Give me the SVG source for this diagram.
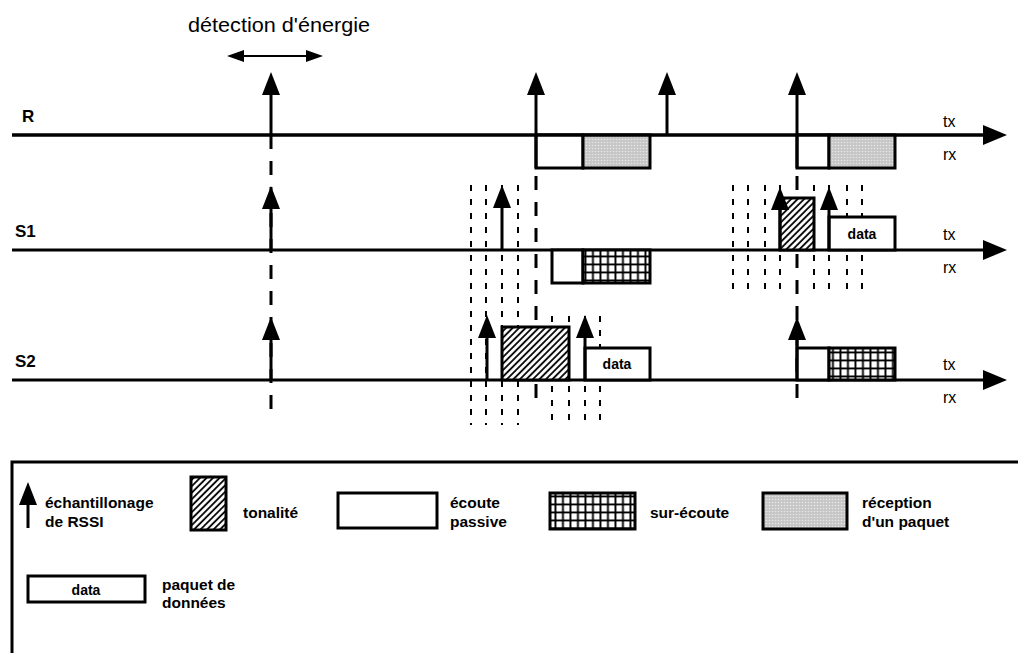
<svg xmlns="http://www.w3.org/2000/svg" width="1018" height="653" viewBox="0 0 1018 653">
<defs>
<style>
.ln{stroke:#000;stroke-width:3;fill:none}
.sh{stroke:#000;stroke-width:3;fill:none;marker-end:url(#arr)}
.dash{stroke:#000;stroke-width:3;fill:none;stroke-dasharray:14 12}
.dot{stroke:#000;stroke-width:2;fill:none;stroke-dasharray:6 8}
.box{stroke:#000;stroke-width:3;fill:#fff}
.hat{stroke:#000;stroke-width:3;fill:url(#hatch)}
.grd{stroke:#000;stroke-width:3;fill:url(#grid)}
.gry{stroke:#000;stroke-width:3;fill:url(#gray)}
.lbl{font-family:"Liberation Sans",Arial,sans-serif;font-weight:bold;font-size:17px;fill:#000}
.txrx{font-family:"Liberation Sans",Arial,sans-serif;font-size:16px;fill:#000}
.dt{font-family:"Liberation Sans",Arial,sans-serif;font-weight:bold;font-size:14px;fill:#000;text-anchor:middle}
.lg{font-family:"Liberation Sans",Arial,sans-serif;font-weight:bold;font-size:15.5px;fill:#000}
</style>
<marker id="arr" markerUnits="userSpaceOnUse" markerWidth="23" markerHeight="18" refX="11" refY="9" orient="auto" viewBox="0 0 23 18">
<path d="M0,0 L23,9 L0,18 z" fill="#000"/>
</marker>
<marker id="big" markerUnits="userSpaceOnUse" markerWidth="24" markerHeight="20" refX="12" refY="10" orient="auto" viewBox="0 0 24 20">
<path d="M0,0 L24,10 L0,20 z" fill="#000"/>
</marker>
<marker id="sm" markerUnits="userSpaceOnUse" markerWidth="17" markerHeight="12" refX="8" refY="6" orient="auto-start-reverse" viewBox="0 0 17 12">
<path d="M0,0 L17,6 L0,12 z" fill="#000"/>
</marker>
<pattern id="hatch" patternUnits="userSpaceOnUse" width="4.6" height="4.6" patternTransform="rotate(45)">
<rect width="4.6" height="4.6" fill="#fff"/>
<line x1="1" y1="0" x2="1" y2="4.6" stroke="#000" stroke-width="1.8"/>
</pattern>
<pattern id="grid" patternUnits="userSpaceOnUse" width="7.5" height="8">
<rect width="7.5" height="8" fill="#000"/>
<rect x="1.4" y="1.4" width="5.6" height="6.1" fill="#fff"/>
</pattern>
<pattern id="gray" patternUnits="userSpaceOnUse" width="3" height="3">
<rect width="3" height="3" fill="#c6c6c6"/>
<circle cx="1.5" cy="1.5" r="0.8" fill="#e6e6e6"/>
</pattern>
</defs>

<g id="title">
<text x="188" y="32" font-family="Liberation Sans, Arial, sans-serif" font-size="20" textLength="182" lengthAdjust="spacingAndGlyphs" fill="#000">détection d'énergie</text>
<line x1="236" y1="56" x2="314" y2="56" stroke="#000" stroke-width="2" marker-start="url(#sm)" marker-end="url(#sm)"/>
</g>

<g id="connectors">
<line class="dot" x1="471" y1="185" x2="471" y2="425"/>
<line class="dot" x1="486" y1="185" x2="486" y2="425"/>
<line class="dot" x1="502" y1="185" x2="502" y2="425"/>
<line class="dot" x1="518" y1="185" x2="518" y2="425"/>
<line class="dot" x1="552" y1="316" x2="552" y2="425"/>
<line class="dot" x1="569" y1="316" x2="569" y2="425"/>
<line class="dot" x1="585" y1="316" x2="585" y2="425"/>
<line class="dot" x1="600" y1="316" x2="600" y2="425"/>
<line class="dot" x1="733" y1="185" x2="733" y2="296"/>
<line class="dot" x1="748" y1="185" x2="748" y2="296"/>
<line class="dot" x1="765" y1="185" x2="765" y2="296"/>
<line class="dot" x1="780" y1="185" x2="780" y2="296"/>
<line class="dot" x1="814" y1="185" x2="814" y2="296"/>
<line class="dot" x1="829" y1="185" x2="829" y2="296"/>
<line class="dot" x1="847" y1="185" x2="847" y2="296"/>
<line class="dot" x1="862" y1="185" x2="862" y2="296"/>
<line class="dash" x1="271" y1="135" x2="271" y2="410"/>
<line class="dash" x1="536" y1="168" x2="536" y2="410" stroke-dashoffset="-8"/>
<line class="dash" x1="797" y1="168" x2="797" y2="410" stroke-dashoffset="-8"/>
</g>

<g id="R">
<line class="ln" x1="12" y1="135" x2="995" y2="135" marker-end="url(#big)"/>
<text class="lbl" x="22" y="122">R</text>
<text class="txrx" x="943" y="127">tx</text>
<text class="txrx" x="943" y="160">rx</text>
<line class="sh" x1="271" y1="135" x2="271" y2="84"/>
<rect class="box" x="536" y="135" width="47" height="33"/>
<rect class="gry" x="583" y="135" width="67" height="33"/>
<line class="sh" x1="536" y1="168" x2="536" y2="84"/>
<line class="sh" x1="667" y1="135" x2="667" y2="84"/>
<rect class="box" x="797" y="135" width="32" height="33"/>
<rect class="gry" x="829" y="135" width="66" height="33"/>
<line class="sh" x1="797" y1="168" x2="797" y2="84"/>
<line class="ln" x1="12" y1="135" x2="995" y2="135"/>
</g>

<g id="S1">
<line class="ln" x1="12" y1="250" x2="995" y2="250" marker-end="url(#big)"/>
<text class="lbl" x="15" y="237">S1</text>
<text class="txrx" x="943" y="240">tx</text>
<text class="txrx" x="943" y="273">rx</text>
<line class="sh" x1="271" y1="250" x2="271" y2="198"/>
<line class="sh" x1="502" y1="250" x2="502" y2="197"/>
<rect class="box" x="552" y="250" width="31" height="33"/>
<rect class="grd" x="583" y="250" width="67" height="33"/>
<rect class="hat" x="780" y="198" width="34" height="52"/>
<line class="sh" x1="780" y1="250" x2="780" y2="199"/>
<rect class="box" x="829" y="217" width="66" height="33"/>
<text class="dt" x="862" y="239">data</text>
<line class="sh" x1="829" y1="250" x2="829" y2="199"/>
</g>

<g id="S2">
<line class="ln" x1="12" y1="380" x2="995" y2="380" marker-end="url(#big)"/>
<text class="lbl" x="15" y="367">S2</text>
<text class="txrx" x="943" y="370">tx</text>
<text class="txrx" x="943" y="403">rx</text>
<line class="sh" x1="271" y1="380" x2="271" y2="329"/>
<line class="sh" x1="487" y1="380" x2="487" y2="327"/>
<rect class="hat" x="502" y="327" width="67" height="53"/>
<rect class="box" x="585" y="348" width="65" height="32"/>
<text class="dt" x="617" y="369">data</text>
<line class="sh" x1="585" y1="380" x2="585" y2="327"/>
<rect class="box" x="797" y="348" width="32" height="32"/>
<rect class="grd" x="829" y="348" width="66" height="32"/>
<line class="sh" x1="797" y1="380" x2="797" y2="329"/>
</g>

<g id="legend">
<rect x="12" y="462" width="1030" height="230" fill="none" stroke="#000" stroke-width="3"/>
<line class="sh" x1="28" y1="528" x2="28" y2="494"/>
<text class="lg" x="45" y="508">échantillonage</text>
<text class="lg" x="45" y="527">de RSSI</text>
<rect class="hat" x="191" y="477" width="35" height="53"/>
<text class="lg" x="243" y="518">tonalité</text>
<rect class="box" x="338" y="493" width="99" height="35"/>
<text class="lg" x="450" y="508">écoute</text>
<text class="lg" x="450" y="527">passive</text>
<rect class="grd" x="550" y="493" width="85" height="36"/>
<text class="lg" x="650" y="518">sur-écoute</text>
<rect class="gry" x="763" y="493" width="84" height="36"/>
<text class="lg" x="862" y="508">réception</text>
<text class="lg" x="862" y="527">d'un paquet</text>
<rect class="box" x="28" y="576" width="117" height="26"/>
<text class="dt" x="86" y="595">data</text>
<text class="lg" x="162" y="590">paquet de</text>
<text class="lg" x="162" y="608">données</text>
</g>
</svg>
